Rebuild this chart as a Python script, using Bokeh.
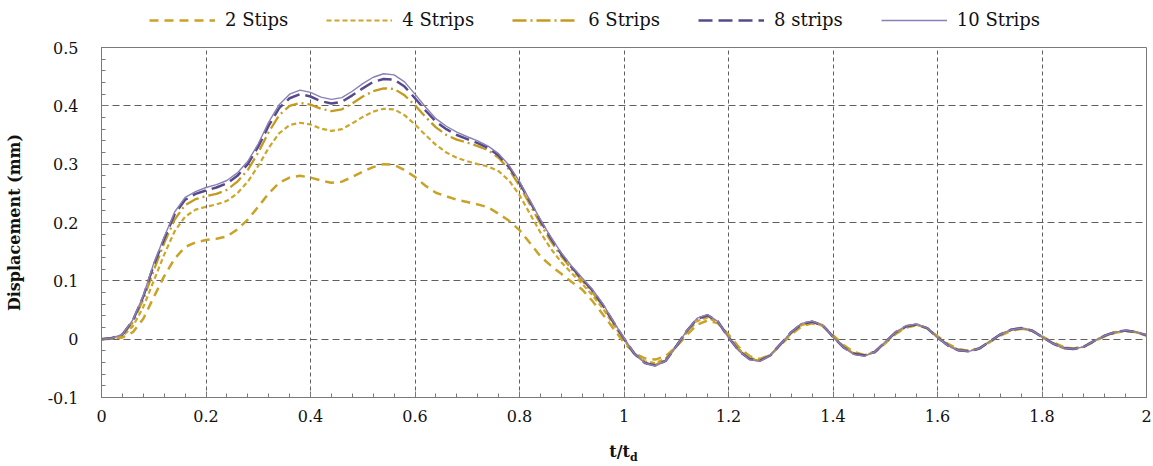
from bokeh.plotting import figure
from bokeh.models import (FixedTicker, CustomJSTickFormatter, Legend, LegendItem,
                          Range1d, Div)
from bokeh.layouts import column
from bokeh.embed import file_html
from bokeh.resources import INLINE

# ---------------- data ----------------
t = [round(0.02 * i, 2) for i in range(101)]

strips_2 = [0.000, 0.001, 0.003, 0.012, 0.035, 0.072, 0.108, 0.138, 0.158, 0.166,
            0.170, 0.172, 0.176, 0.188, 0.205, 0.227, 0.250, 0.268, 0.277, 0.280,
            0.277, 0.272, 0.268, 0.270, 0.278, 0.287, 0.295, 0.300, 0.299, 0.290,
            0.278, 0.263, 0.251, 0.245, 0.239, 0.235, 0.231, 0.226, 0.215, 0.203,
            0.187, 0.165, 0.142, 0.126, 0.112, 0.098, 0.085, 0.065, 0.042, 0.018,
            -0.006,
            -0.024, -0.033, -0.035, -0.029, -0.013, 0.007, 0.025, 0.032, 0.027, 0.008,
            -0.014, -0.029, -0.034, -0.027, -0.010, 0.008, 0.022, 0.027, 0.023, 0.007,
            -0.010, -0.022, -0.027, -0.022, -0.007, 0.009, 0.020, 0.024, 0.019, 0.005,
            -0.008, -0.017, -0.020, -0.016, -0.005, 0.006, 0.014, 0.018, 0.015, 0.005,
            -0.005, -0.013, -0.016, -0.013, -0.004, 0.005, 0.011, 0.014, 0.012, 0.006]

strips_4 = [0.000, 0.001, 0.005, 0.022, 0.055, 0.100, 0.145, 0.185, 0.210, 0.222,
            0.227, 0.231, 0.237, 0.250, 0.270, 0.297, 0.328, 0.353, 0.367, 0.371,
            0.368, 0.361, 0.357, 0.360, 0.370, 0.381, 0.390, 0.395, 0.394, 0.384,
            0.368, 0.350, 0.333, 0.320, 0.311, 0.305, 0.300, 0.296, 0.288, 0.272,
            0.247, 0.215, 0.183, 0.155, 0.132, 0.113, 0.095, 0.075, 0.052, 0.025,
            -0.002,
            -0.026, -0.038, -0.041, -0.033, -0.012, 0.011, 0.031, 0.037, 0.028, 0.005,
            -0.017, -0.032, -0.036, -0.027, -0.009, 0.010, 0.024, 0.029, 0.023, 0.005,
            -0.012, -0.024, -0.028, -0.022, -0.006, 0.010, 0.021, 0.025, 0.019, 0.004,
            -0.010, -0.018, -0.020, -0.016, -0.004, 0.007, 0.015, 0.018, 0.015, 0.004,
            -0.006, -0.014, -0.016, -0.013, -0.003, 0.005, 0.011, 0.014, 0.012, 0.006]

strips_6 = [0.000, 0.002, 0.007, 0.029, 0.068, 0.118, 0.165, 0.205, 0.230, 0.240,
            0.245, 0.249, 0.256, 0.270, 0.290, 0.320, 0.355, 0.384, 0.400, 0.405,
            0.402, 0.395, 0.391, 0.394, 0.404, 0.416, 0.425, 0.430, 0.429, 0.418,
            0.401, 0.381, 0.363, 0.350, 0.342, 0.337, 0.331, 0.324, 0.311, 0.291,
            0.263, 0.231, 0.198, 0.168, 0.142, 0.120, 0.100, 0.080, 0.056, 0.028,
            0.000,
            -0.025, -0.040, -0.044, -0.036, -0.012, 0.013, 0.034, 0.040, 0.029, 0.004,
            -0.019, -0.034, -0.037, -0.028, -0.008, 0.011, 0.026, 0.030, 0.024, 0.004,
            -0.013, -0.025, -0.028, -0.022, -0.005, 0.011, 0.022, 0.025, 0.019, 0.003,
            -0.011, -0.019, -0.021, -0.016, -0.004, 0.008, 0.016, 0.019, 0.015, 0.004,
            -0.007, -0.015, -0.017, -0.013, -0.003, 0.006, 0.012, 0.015, 0.012, 0.007]

strips_8 = [0.000, 0.002, 0.008, 0.032, 0.073, 0.127, 0.172, 0.214, 0.239, 0.249,
            0.255, 0.260, 0.267, 0.280, 0.300, 0.330, 0.366, 0.396, 0.413, 0.420,
            0.416, 0.408, 0.404, 0.407, 0.418, 0.430, 0.441, 0.446, 0.445, 0.433,
            0.413, 0.392, 0.373, 0.360, 0.350, 0.343, 0.336, 0.328, 0.315, 0.295,
            0.268, 0.236, 0.203, 0.173, 0.146, 0.123, 0.103, 0.083, 0.058, 0.029,
            0.001,
            -0.025, -0.041, -0.045, -0.037, -0.012, 0.014, 0.035, 0.041, 0.030, 0.003,
            -0.020, -0.034, -0.037, -0.028, -0.008, 0.012, 0.026, 0.030, 0.024, 0.004,
            -0.014, -0.025, -0.028, -0.022, -0.005, 0.012, 0.022, 0.025, 0.019, 0.003,
            -0.011, -0.019, -0.021, -0.016, -0.004, 0.008, 0.016, 0.019, 0.015, 0.004,
            -0.007, -0.015, -0.017, -0.013, -0.003, 0.006, 0.012, 0.015, 0.012, 0.007]

strips_10 = [0.000, 0.002, 0.008, 0.033, 0.075, 0.130, 0.175, 0.218, 0.243, 0.253,
             0.260, 0.265, 0.272, 0.285, 0.305, 0.335, 0.372, 0.402, 0.420, 0.427,
             0.423, 0.415, 0.411, 0.414, 0.425, 0.438, 0.449, 0.455, 0.453, 0.441,
             0.420, 0.398, 0.378, 0.365, 0.355, 0.347, 0.340, 0.331, 0.318, 0.298,
             0.270, 0.238, 0.205, 0.175, 0.148, 0.125, 0.105, 0.085, 0.060, 0.030,
             0.002,
             -0.025, -0.041, -0.046, -0.037, -0.012, 0.014, 0.036, 0.042, 0.030, 0.003,
             -0.020, -0.035, -0.038, -0.028, -0.008, 0.012, 0.027, 0.031, 0.024, 0.004,
             -0.014, -0.026, -0.029, -0.022, -0.005, 0.012, 0.023, 0.026, 0.019, 0.003,
             -0.011, -0.019, -0.021, -0.016, -0.004, 0.008, 0.016, 0.019, 0.015, 0.004,
             -0.007, -0.015, -0.017, -0.013, -0.003, 0.006, 0.012, 0.015, 0.012, 0.007]

series_labels = ["2 Stips", "4 Strips", "6 Strips", "8 strips", "10 Strips"]

x_ticks = [0, 0.2, 0.4, 0.6, 0.8, 1.0, 1.2, 1.4, 1.6, 1.8, 2.0]
y_ticks = [-0.1, 0, 0.1, 0.2, 0.3, 0.4, 0.5]
x_minor = [round(0.04 * i, 2) for i in range(51)]
y_minor = [round(-0.1 + 0.02 * i, 2) for i in range(31)]

x_title_main = "t/t"
x_title_sub = "d"
y_title = "Displacement (mm)"

# ---------------- styles ----------------
SERIF = "DejaVu Serif"
GRID = "#5f5f5f"
styles = [
    dict(line_color="#C9A227", line_width=2.5, line_dash="9 6"),
    dict(line_color="#CDA62A", line_width=2.2, line_dash="5 3"),
    dict(line_color="#C49B1E", line_width=2.3, line_dash="14 4 2 4"),
    dict(line_color="#574A8C", line_width=2.5, line_dash="14 6"),
    dict(line_color="#8A80B4", line_width=1.4),
]
all_series = [strips_2, strips_4, strips_6, strips_8, strips_10]

# ---------------- legend strip (top) ----------------
lg = figure(width=1153, height=36, output_backend="svg", toolbar_location=None,
            x_range=Range1d(0, 1), y_range=Range1d(0, 1),
            x_axis_type=None, y_axis_type=None,
            min_border_left=0, min_border_right=0, min_border_top=0,
            min_border_bottom=0, margin=(0, 0, 0, 0))
lg.outline_line_color = None
lg.xgrid.visible = False
lg.ygrid.visible = False
lg.background_fill_color = "white"
lg.border_fill_color = "white"

items = []
for lab, ys, st in zip(series_labels, all_series, styles):
    # a single-point line draws nothing itself; it only carries the legend style
    r = lg.line(x=t[:1], y=ys[:1], **st)
    items.append(LegendItem(label=lab, renderers=[r]))

legend = Legend(items=items, orientation="horizontal", location=(48, 6),
                glyph_width=66, glyph_height=20, label_standoff=10, spacing=38,
                padding=0, margin=0, border_line_alpha=0, background_fill_alpha=0,
                label_text_font=SERIF, label_text_font_size="18px",
                label_text_color="#111111")
lg.add_layout(legend, "center")

# ---------------- main plot ----------------
p = figure(width=1153, height=400, output_backend="svg", toolbar_location=None,
           x_range=Range1d(0, 2), y_range=Range1d(-0.1, 0.5),
           min_border_left=101, min_border_right=7, min_border_top=11,
           min_border_bottom=39, margin=(0, 0, 0, 0))
p.background_fill_color = "white"
p.border_fill_color = "white"
p.outline_line_color = "#7a7a7a"
p.outline_line_width = 1

fmt = CustomJSTickFormatter(code="""
    var s = tick.toFixed(1);
    if (s === '-0.0') { s = '0.0'; }
    return s.replace(/\\.0$/, '');
""")

for ax, ticks, minor in ((p.xaxis[0], x_ticks, x_minor), (p.yaxis[0], y_ticks, y_minor)):
    ax.ticker = FixedTicker(ticks=ticks, minor_ticks=minor)
    ax.formatter = fmt
    ax.axis_line_color = "#7a7a7a"
    ax.major_tick_line_color = "#7a7a7a"
    ax.minor_tick_line_color = "#7a7a7a"
    ax.major_tick_in = 6
    ax.major_tick_out = 0
    ax.minor_tick_in = 4
    ax.minor_tick_out = 0
    ax.major_label_text_font = SERIF
    ax.major_label_text_font_size = "16px"
    ax.major_label_text_color = "#111111"

p.xaxis.major_label_standoff = 12
p.yaxis.major_label_standoff = 23
p.yaxis.axis_label = y_title
p.yaxis.axis_label_text_font = SERIF
p.yaxis.axis_label_text_font_style = "bold"
p.yaxis.axis_label_text_font_size = "16px"
p.yaxis.axis_label_text_color = "#111111"
p.yaxis.axis_label_standoff = 21

p.xgrid.grid_line_color = GRID
p.xgrid.grid_line_dash = "4 3"
p.xgrid.grid_line_width = 1
p.ygrid.grid_line_color = GRID
p.ygrid.grid_line_dash = "7 4"
p.ygrid.grid_line_width = 1

for ys, st in zip(all_series, styles):
    p.line(t, ys, **st)

# ---------------- x axis title with subscript ----------------
xtitle = Div(
    text=('<div style="width:1045px;margin-left:101px;text-align:center;'
          'font-family:\'DejaVu Serif\';font-weight:bold;font-size:16px;'
          'color:#111;line-height:20px;padding-top:6px;">'
          + x_title_main + '<sub style="font-size:11px;">' + x_title_sub
          + '</sub></div>'),
    width=1153, height=30, margin=(0, 0, 0, 0))

layout = column(lg, p, xtitle, spacing=0)

open("out.html", "w").write(file_html(layout, INLINE))
